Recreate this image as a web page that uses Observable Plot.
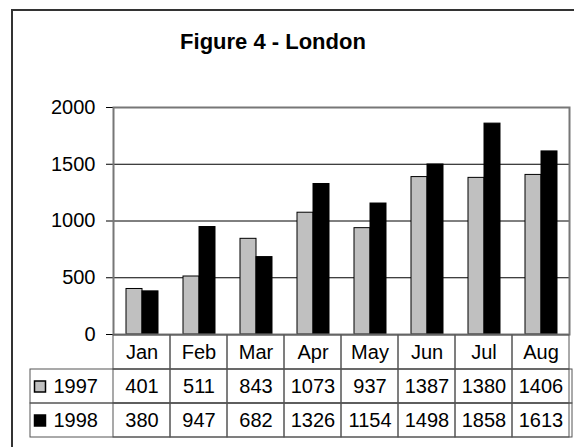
<!DOCTYPE html>
<html>
<head>
<meta charset="utf-8">
<script src="https://cdn.jsdelivr.net/npm/d3@7"></script>
<script src="https://cdn.jsdelivr.net/npm/@observablehq/plot@0.6"></script>
<style>
  html, body { margin: 0; padding: 0; background: white; overflow: hidden; }
  #wrap { position: relative; width: 574px; height: 447px; overflow: hidden; background: white; }
  #outer { position: absolute; left: 11px; top: 9px; width: 600px; height: 500px; border: 2px solid #333; box-sizing: border-box; }
  #title { position: absolute; left: 0; top: 31px; width: 546px; text-align: center; font: bold 22px "Liberation Sans", Arial, sans-serif; line-height: 22px; color: #000; }
  .layer { position: absolute; left: 0; top: 0; }
</style>
</head>
<body>
<div id="wrap">
  <div id="outer"></div>
  <div id="title">Figure 4 - London</div>
  <div id="chart" class="layer"></div>
  <div id="table" class="layer"></div>
</div>
<script>
const months = ["Jan", "Feb", "Mar", "Apr", "May", "Jun", "Jul", "Aug"];
const years = ["1997", "1998"];
const values1997 = [401, 511, 843, 1073, 937, 1387, 1380, 1406];
const values1998 = [380, 947, 682, 1326, 1154, 1498, 1858, 1613];
const yTicks = [0, 500, 1000, 1500, 2000];
const gridValues = [500, 1000, 1500];
const seriesColors = ["#c0c0c0", "#000000"];

const data = months.flatMap((m, i) => [
  {month: m, year: "1997", value: values1997[i]},
  {month: m, year: "1998", value: values1998[i]}
]);

const font = "'Liberation Sans', Arial, sans-serif";

const chart = Plot.plot({
  width: 574,
  height: 447,
  marginTop: 107,
  marginBottom: 113,
  marginLeft: 110,
  marginRight: 2,
  style: {fontFamily: font, fontSize: "20px", background: "transparent", color: "black"},
  fx: {domain: months, padding: 0, axis: null},
  x: {domain: years, paddingInner: 0, paddingOuter: 0.75, axis: null},
  y: {domain: [0, 2000], ticks: yTicks, tickFormat: "d", tickSize: 7, tickPadding: 11, label: null},
  color: {domain: years, range: seriesColors},
  marks: [
    Plot.ruleY(gridValues, {stroke: "black", strokeWidth: 1}),
    Plot.barY(data, {fx: "month", x: "year", y: "value", fill: "year", stroke: "black", strokeWidth: 1}),
    Plot.frame({stroke: "#777", strokeWidth: 2, facet: "super"})
  ]
});
document.getElementById("chart").appendChild(chart);

const rows = ["head", ...years];
const table = Plot.plot({
  width: 574,
  height: 447,
  marginTop: 334,
  marginBottom: 9,
  marginLeft: 30,
  marginRight: 2,
  style: {fontFamily: font, fontSize: "20px", background: "transparent", color: "black"},
  x: {domain: months, range: [110, 572], padding: 0, axis: null},
  y: {domain: rows, padding: 0, axis: null},
  color: {domain: years, range: seriesColors},
  marks: [
    Plot.cell(years, {y: d => d, fill: "none", stroke: "#555"}),
    Plot.cell(data.concat(months.map(m => ({month: m, year: "head"}))), {x: "month", y: "year", fill: "none", stroke: "#555"}),
    Plot.text(months, {x: d => d, y: () => "head", text: d => d}),
    Plot.text(data, {x: "month", y: "year", text: d => String(d.value)}),
    Plot.dot(years, {y: d => d, frameAnchor: "left", dx: 9.5, symbol: "square", r: 6.2, fill: d => d, stroke: "black", strokeWidth: 1.5}),
    Plot.text(years, {y: d => d, frameAnchor: "left", dx: 23, textAnchor: "start", text: d => d})
  ]
});
document.getElementById("table").appendChild(table);
</script>
</body>
</html>
